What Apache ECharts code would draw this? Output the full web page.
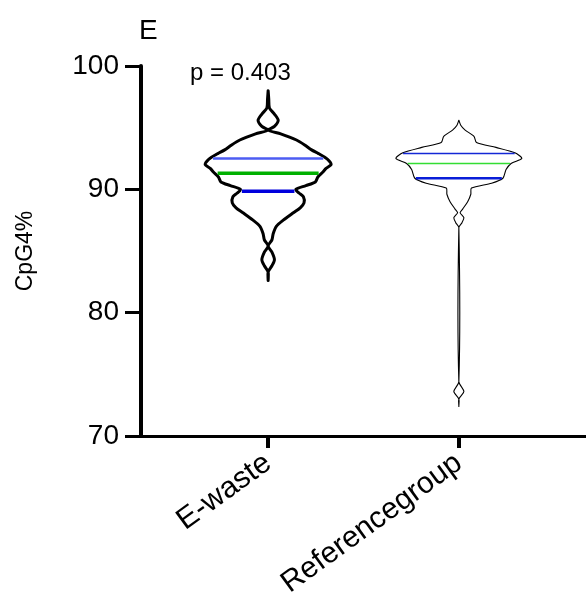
<!DOCTYPE html>
<html>
<head>
<meta charset="utf-8">
<script src="https://cdn.jsdelivr.net/npm/echarts@6/dist/echarts.min.js"></script>
<style>
  html, body { margin: 0; padding: 0; background: #fff; }
  #chart { width: 586px; height: 606px; }
</style>
</head>
<body>
<div id="chart"></div>
<script>
const categories = ["E-waste", "Referencegroup"];
const yTicks = [70, 80, 90, 100];

// violin outline: CpG4% value and relative density (1 = widest)
const eWasteValues = [98.0, 97.3, 96.6, 96.1, 95.6, 95.1, 94.8, 94.5, 94.0, 93.6, 93.2, 92.9, 92.6, 92.3, 92.0, 91.7, 91.4, 91.0, 90.6, 90.3, 90.0, 89.7, 89.4, 88.9, 88.5, 88.1, 87.5, 87.0, 86.4, 85.9, 85.4, 84.9, 84.3, 83.8, 83.3, 82.6];
const eWasteDensity = [0, 0.01, 0.02, 0.1, 0.16, 0.1, 0, 0.2, 0.45, 0.58, 0.69, 0.8, 0.9, 0.97, 1.0, 0.92, 0.87, 0.79, 0.75, 0.6, 0.44, 0.49, 0.56, 0.57, 0.51, 0.4, 0.24, 0.13, 0.08, 0.06, 0, 0.06, 0.1, 0.06, 0, 0];
const refValues = [95.6, 95.2, 94.8, 94.3, 93.8, 93.4, 92.96, 92.5, 92.1, 91.6, 90.9, 90.5, 90.1, 89.6, 89.0, 88.4, 88.1, 87.7, 87.3, 86.9, 74.4, 73.6, 73.0, 72.4];
const refDensity = [0, 0.03, 0.1, 0.24, 0.28, 0.59, 0.89, 1.0, 0.83, 0.75, 0.7, 0.52, 0.2, 0.19, 0.14, 0.06, 0.02, 0.08, 0.05, 0, 0, 0.08, 0, 0];

// quartiles [upper, median, lower]
const eWasteQuartiles = [92.5, 91.3, 89.85];
const refQuartiles = [92.9, 92.1, 90.9];

const pValue = "p = 0.403";

// category slots so the two groups sit where the original puts them
const axisCats = ["", "", categories[0], "", "", categories[1], "", ""];
const groupSlots = [2, 5];

const groups = [
  { values: eWasteValues, density: eWasteDensity, q: eWasteQuartiles, width: 3, qColors: ["#4d5cf2", "#00b000", "#0000dd"], qWidths: [2.5, 3.5, 3.5] },
  { values: refValues, density: refDensity, q: refQuartiles, width: 1.1, qColors: ["#1428d6", "#33dd33", "#0a1ed8"], qWidths: [1.5, 1.5, 2.5] }
];

function densityAt(g, v) {
  for (let i = 0; i < g.values.length - 1; i++) {
    const a = g.values[i], b = g.values[i + 1];
    if (v <= a && v >= b) {
      const t = (a - v) / (a - b);
      return g.density[i] + t * (g.density[i + 1] - g.density[i]);
    }
  }
  return 0;
}

function renderViolin(params, api) {
  const gi = api.value(1);
  const g = groups[gi];
  const slot = api.value(0);
  const maxHalf = api.size([1, 0])[0] * 0.99;
  const cx = api.coord([slot, 70])[0];
  const right = [], left = [];
  g.values.forEach((v, i) => {
    const y = api.coord([slot, v])[1];
    right.push([cx + g.density[i] * maxHalf, y]);
    left.unshift([cx - g.density[i] * maxHalf, y]);
  });
  const children = [{
    type: "polygon",
    shape: { points: right.concat(left), smooth: 0.25 },
    style: { fill: "#fff", stroke: "#000", lineWidth: g.width, lineJoin: "round" }
  }];
  g.q.forEach((v, k) => {
    const y = api.coord([slot, v])[1];
    const h = densityAt(g, v) * maxHalf - g.width;
    children.push({
      type: "line",
      shape: { x1: cx - h, y1: y, x2: cx + h, y2: y },
      style: { stroke: g.qColors[k], lineWidth: g.qWidths[k] }
    });
  });
  return { type: "group", children: children };
}

const chart = echarts.init(document.getElementById("chart"));

const option = {
  animation: false,
  title: [
    { text: "E", left: 134, top: 12, textStyle: { fontFamily: "Liberation Sans", fontSize: 28, fontWeight: "normal", color: "#000" } },
    { text: pValue, left: 185, top: 56, textStyle: { fontFamily: "Liberation Sans", fontSize: 24, fontWeight: "normal", color: "#000" } }
  ],
  grid: { left: 141, right: 0, top: 66, bottom: 170 },
  xAxis: {
    type: "category",
    data: axisCats,
    boundaryGap: false,
    axisLine: { lineStyle: { color: "#000", width: 3 } },
    axisTick: { length: 12, lineStyle: { color: "#000", width: 4 }, interval: (i) => groupSlots.includes(i) },
    axisLabel: {
      interval: (i) => groupSlots.includes(i),
      rotate: 36,
      margin: 24,
      color: "#000",
      fontFamily: "Liberation Sans",
      fontSize: 30
    },
    splitLine: { show: false }
  },
  yAxis: {
    type: "value",
    min: yTicks[0],
    max: yTicks[yTicks.length - 1],
    interval: 10,
    name: "CpG4%",
    nameLocation: "middle",
    nameGap: 104,
    nameTextStyle: { fontFamily: "Liberation Sans", fontSize: 23, color: "#000" },
    axisLine: { show: true, lineStyle: { color: "#000", width: 4 } },
    axisTick: { show: true, length: 16, lineStyle: { color: "#000", width: 3 } },
    axisLabel: { margin: 22, color: "#000", fontFamily: "Liberation Sans", fontSize: 28 },
    splitLine: { show: false }
  },
  series: [{
    type: "custom",
    renderItem: renderViolin,
    data: groupSlots.map((s, i) => [s, i]),
    clip: false
  }]
};

chart.setOption(option);
</script>
</body>
</html>
